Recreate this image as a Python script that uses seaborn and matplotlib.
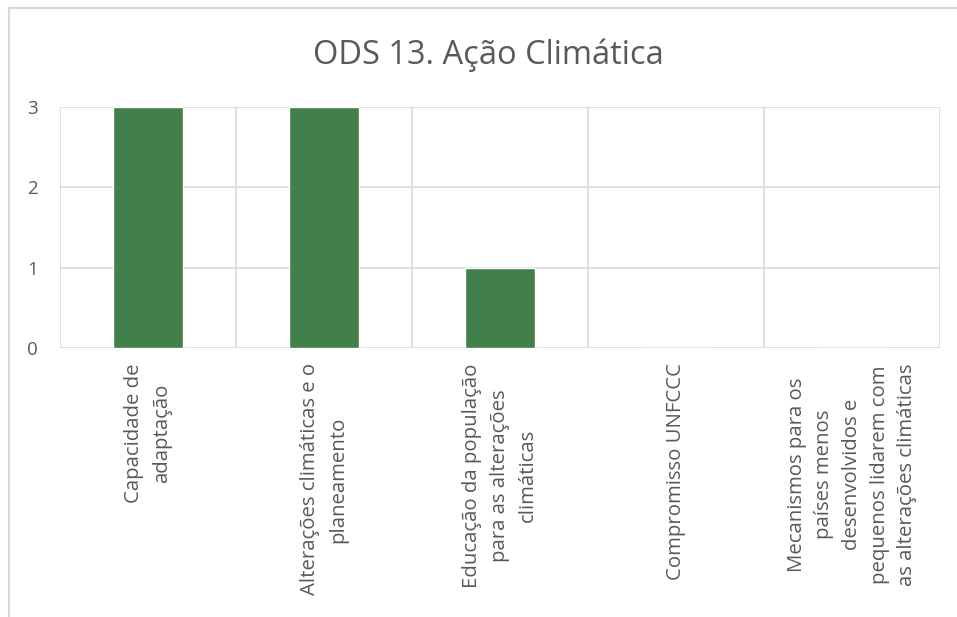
import matplotlib
matplotlib.use("Agg")
import matplotlib.pyplot as plt
import seaborn as sns
import pandas as pd
from matplotlib.lines import Line2D

categories = [
    "Capacidade de\nadaptação",
    "Alterações climáticas e o\nplaneamento",
    "Educação da população\npara as alterações\nclimáticas",
    "Compromisso UNFCCC",
    "Mecanismos para os\npaíses menos\ndesenvolvidos e\npequenos lidarem com\nas alterações climáticas",
]
values = [3, 3, 1, 0, 0]
yticks = [0, 1, 2, 3]
title = "ODS 13. Ação Climática"

sns.set_style("white")
plt.rcParams["font.family"] = ["Open Sans", "DejaVu Sans"]

text_color = "#595959"
grid_color = "#d9d9d9"
bar_color = "#41804A"

df = pd.DataFrame({"cat": categories, "val": values})

fig = plt.figure(figsize=(9.57, 6.17), dpi=100)
ax = fig.add_axes([60 / 957, 1 - 348 / 617, 880 / 957, 241 / 617])

sns.barplot(data=df, x="cat", y="val", color=bar_color, width=0.4,
            saturation=1, ax=ax, zorder=3)

ax.set_ylim(0, 3)
ax.set_xlim(-0.5, len(categories) - 0.5)
ax.set_yticks(yticks)
ax.set_xticks(range(len(categories)))
ax.set_xticklabels(categories, rotation=90, ha="center", va="top",
                   multialignment="center", fontsize=14.7, color=text_color,
                   linespacing=1.5)
ax.tick_params(axis="x", length=0, pad=11)
ax.tick_params(axis="y", length=0, pad=16, labelsize=13.5, labelcolor=text_color)
ax.set_xlabel("")
ax.set_ylabel("")

ax.set_xticks([i - 0.5 for i in range(len(categories) + 1)], minor=True)
ax.tick_params(axis="x", which="minor", length=0)
ax.grid(True, axis="y", color=grid_color, linewidth=1.2, zorder=0)
ax.grid(True, axis="x", which="minor", color=grid_color, linewidth=1.2, zorder=0)
ax.grid(False, axis="x", which="major")
for s in ax.spines.values():
    s.set_visible(False)

fig.text(488 / 957, 1 - 55 / 617, title, ha="center", va="center",
         fontsize=23.5, color=text_color)

# chart outer border (partially visible)
fig.add_artist(Line2D([8.5 / 957, 8.5 / 957], [0, 1 - 7.5 / 617],
                      transform=fig.transFigure, color=grid_color, linewidth=1.5))
fig.add_artist(Line2D([8.5 / 957, 1], [1 - 7.5 / 617, 1 - 7.5 / 617],
                      transform=fig.transFigure, color=grid_color, linewidth=1.5))

fig.savefig("out.png", dpi=100)
